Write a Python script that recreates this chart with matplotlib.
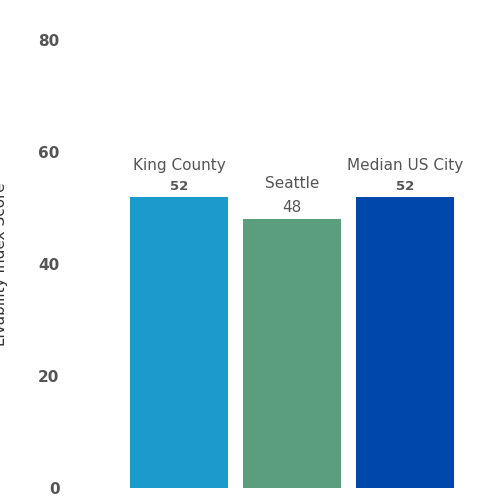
import matplotlib.pyplot as plt

categories = ["King County", "Seattle", "Median US City"]
values = [52, 48, 52]
colors = ["#1a9bcc", "#5b9e7e", "#0047ab"]
bold = [True, False, True]
yticks = [0, 20, 40, 60, 80]

fig = plt.figure(figsize=(5, 5), dpi=100)
fig.patch.set_facecolor("white")
ax = fig.add_axes([0.23, 0.024, 0.71, 0.896])
x = range(len(categories))
ax.bar(x, values, width=0.867, color=colors)
ax.set_xlim(-0.566, 2.575)
ax.set_ylim(0, 80)
ax.set_yticks(yticks)
ax.set_yticklabels([str(t) for t in yticks], fontsize=11, fontweight="bold", color="#555555")
ax.tick_params(axis="y", length=0, pad=40)
ax.set_xticks([])
for s in ax.spines.values():
    s.set_visible(False)
ax.set_ylabel("Livability Index Score", fontsize=11, color="#333333", labelpad=22)
for i, (c, v, b) in enumerate(zip(categories, values, bold)):
    ax.annotate(str(v), (i, v), xytext=(0, 3), textcoords="offset points",
                ha="center", va="bottom", color="#555555",
                fontsize=9.5 if b else 11, fontweight="bold" if b else "normal")
    ax.annotate(c, (i, v), xytext=(0, 17 if b else 20), textcoords="offset points",
                ha="center", va="bottom", color="#555555", fontsize=11)
fig.savefig("out.png", dpi=100)
